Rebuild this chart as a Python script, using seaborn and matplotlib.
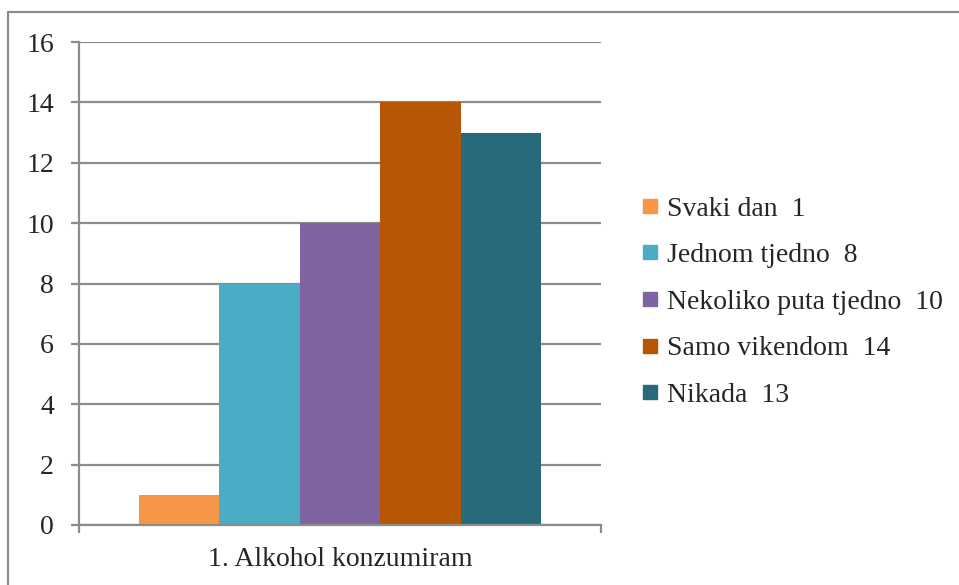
import seaborn as sns
import matplotlib.pyplot as plt
import pandas as pd
from matplotlib.lines import Line2D

category = ['1. Alkohol konzumiram']
series = ['Svaki dan', 'Jednom tjedno', 'Nekoliko puta tjedno', 'Samo vikendom', 'Nikada']
values = [1, 8, 10, 14, 13]
colors = ['#F79646', '#4BACC6', '#8064A2', '#B75706', '#266A7C']

df = pd.DataFrame({'kategorija': category * len(series), 'odgovor': series, 'broj': values})

sns.set_style('white')
plt.rcParams['font.family'] = ['Liberation Serif', 'DejaVu Serif']

fig = plt.figure(figsize=(9.59, 5.85), dpi=100)
ax = fig.add_axes([79 / 959, 60 / 585, 522 / 959, 483 / 585])

sns.barplot(data=df, x='kategorija', y='broj', hue='odgovor', palette=colors,
            width=0.77, saturation=1, linewidth=0, ax=ax, legend=False)

grid_col = '#8C8C8C'
ax.set_xlim(-0.5, 0.5)
ax.set_ylim(0, 16)
ax.set_yticks(range(0, 17, 2))
ax.yaxis.grid(True, color=grid_col, lw=1.6)
ax.set_axisbelow(True)
for side in ['top', 'right']:
    ax.spines[side].set_visible(False)
for side in ['left', 'bottom']:
    ax.spines[side].set_color(grid_col)
    ax.spines[side].set_linewidth(1.6)

ax.set_xlabel('')
ax.set_ylabel('')
ax.tick_params(axis='y', left=True, length=6, width=1.6, color=grid_col, labelsize=20, pad=12)
ax.tick_params(axis='x', which='major', bottom=False, labelsize=20, pad=12)
ax.set_xticks([-0.5, 0.5], minor=True)
ax.tick_params(axis='x', which='minor', bottom=True, length=6, width=1.6, color=grid_col)

handles = [Line2D([], [], marker='s', linestyle='', markersize=10, color=c) for c in colors]
labels = [f'{s}  {v}' for s, v in zip(series, values)]
ax.legend(handles, labels, loc='center left', bbox_to_anchor=(631 / 959, 1 - 302 / 585),
          bbox_transform=fig.transFigure, frameon=False, fontsize=20,
          handlelength=0.6, handletextpad=0.3, labelspacing=0.76, borderaxespad=0)

# outer chart frame (top and left edges visible)
fig.add_artist(Line2D([8 / 959, 1], [1 - 12 / 585, 1 - 12 / 585], color=grid_col, lw=1.6))
fig.add_artist(Line2D([8 / 959, 8 / 959], [0, 1 - 12 / 585], color=grid_col, lw=1.6))

fig.savefig('out.png', dpi=100)
